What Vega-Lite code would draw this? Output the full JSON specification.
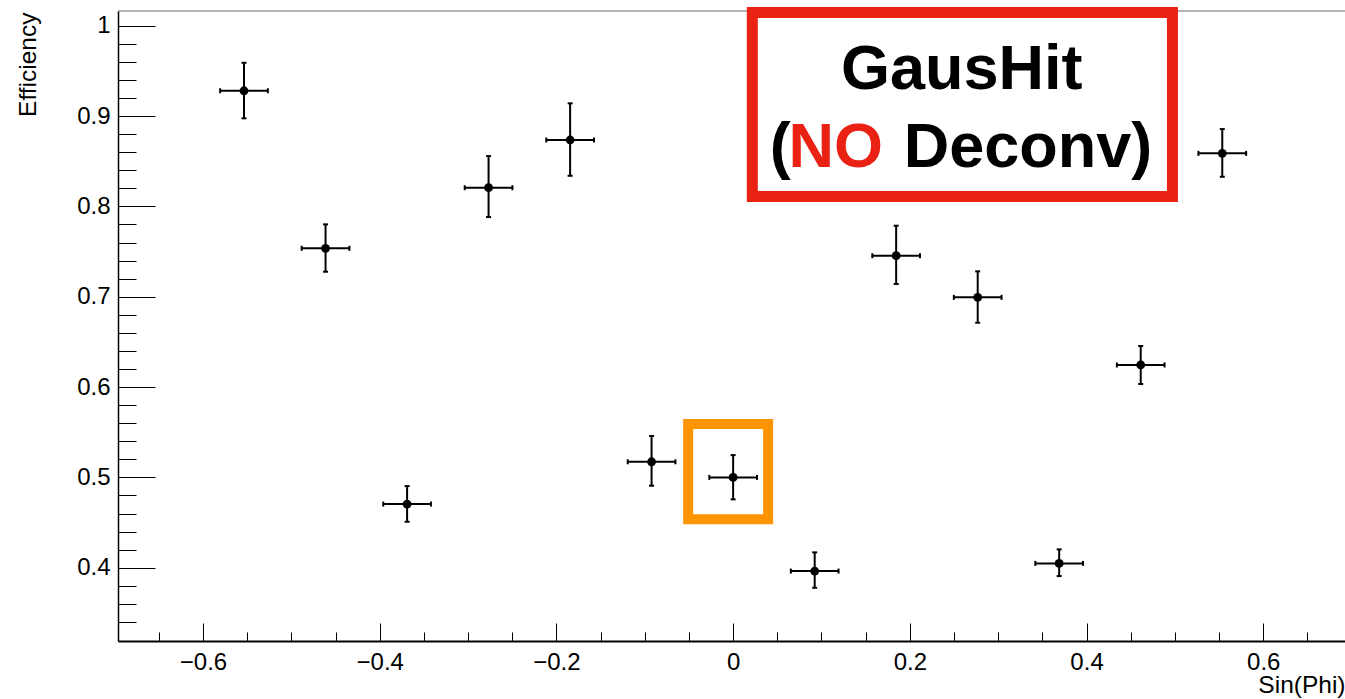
{
  "$schema": "https://vega.github.io/schema/vega-lite/v6.json",
  "width": 1227,
  "height": 630,
  "autosize": {"type": "none"},
  "padding": {"left": 118, "top": 11, "right": 0, "bottom": 58},
  "background": "white",
  "config": {"view": {"stroke": null}},
  "data": {"values": [
    {"x": -0.5536, "y": 0.928, "xlo": -0.5806, "xhi": -0.5266, "ylo": 0.8975, "yhi": 0.959},
    {"x": -0.4613, "y": 0.7536, "xlo": -0.4883, "xhi": -0.4343, "ylo": 0.7277, "yhi": 0.7801},
    {"x": -0.369, "y": 0.4705, "xlo": -0.396, "xhi": -0.342, "ylo": 0.4509, "yhi": 0.4904},
    {"x": -0.2768, "y": 0.8207, "xlo": -0.3038, "xhi": -0.2498, "ylo": 0.7882, "yhi": 0.8557},
    {"x": -0.1845, "y": 0.8735, "xlo": -0.2115, "xhi": -0.1575, "ylo": 0.8339, "yhi": 0.9141},
    {"x": -0.0923, "y": 0.5173, "xlo": -0.1193, "xhi": -0.0653, "ylo": 0.4908, "yhi": 0.5458},
    {"x": 0.0, "y": 0.5, "xlo": -0.027, "xhi": 0.027, "ylo": 0.4757, "yhi": 0.5247},
    {"x": 0.0923, "y": 0.3963, "xlo": 0.0653, "xhi": 0.1193, "ylo": 0.3778, "yhi": 0.417},
    {"x": 0.1845, "y": 0.7454, "xlo": 0.1575, "xhi": 0.2115, "ylo": 0.7141, "yhi": 0.7786},
    {"x": 0.2768, "y": 0.6993, "xlo": 0.2498, "xhi": 0.3038, "ylo": 0.6712, "yhi": 0.7281},
    {"x": 0.369, "y": 0.4048, "xlo": 0.342, "xhi": 0.396, "ylo": 0.3908, "yhi": 0.4203},
    {"x": 0.4613, "y": 0.6245, "xlo": 0.4343, "xhi": 0.4883, "ylo": 0.6034, "yhi": 0.6455},
    {"x": 0.5536, "y": 0.8587, "xlo": 0.5266, "xhi": 0.5806, "ylo": 0.8328, "yhi": 0.8856}
  ]},
  "layer": [
    {
      "mark": {"type": "rule", "color": "black", "strokeWidth": 2},
      "encoding": {
        "x": {
          "field": "xlo", "type": "quantitative",
          "scale": {"domain": [-0.6962, 0.6925], "nice": false, "zero": false},
          "axis": {
            "title": "Sin(Phi)",
            "values": [-0.65, -0.6, -0.55, -0.5, -0.45, -0.4, -0.35, -0.3, -0.25, -0.2, -0.15, -0.1, -0.05, 0, 0.05, 0.1, 0.15, 0.2, 0.25, 0.3, 0.35, 0.4, 0.45, 0.5, 0.55, 0.6, 0.65],
            "tickCount": 200,
            "tickSize": {"condition": {"test": "abs(datum.value*5 - round(datum.value*5)) < 0.001", "value": -18}, "value": -9},
            "tickColor": "black",
            "tickWidth": 1,
            "domainColor": "black",
            "domainWidth": 2,
            "grid": false,
            "labelExpr": "abs(datum.value*5 - round(datum.value*5)) < 0.001 ? (abs(datum.value) < 0.001 ? '0' : format(datum.value, '.1f')) : ''",
            "labelFont": "Liberation Sans",
            "labelFontSize": 24,
            "labelColor": "black",
            "labelPadding": 27,
            "labelOverlap": false,
            "labelFlush": false,
            "labelBound": false,
            "titleFont": "Liberation Sans",
            "titleFontSize": 24.5,
            "titleFontWeight": "normal",
            "titleColor": "black",
            "titleAlign": "right",
            "titleBaseline": "alphabetic",
            "titleX": 1227,
            "titleY": 51
          }
        },
        "x2": {"field": "xhi"},
        "y": {
          "field": "y", "type": "quantitative",
          "scale": {"domain": [0.3189, 1.0163], "nice": false, "zero": false},
          "axis": {
            "title": "Efficiency",
            "values": [0.34, 0.36, 0.38, 0.4, 0.42, 0.44, 0.46, 0.48, 0.5, 0.52, 0.54, 0.56, 0.58, 0.6, 0.62, 0.64, 0.66, 0.68, 0.7, 0.72, 0.74, 0.76, 0.78, 0.8, 0.82, 0.84, 0.86, 0.88, 0.9, 0.92, 0.94, 0.96, 0.98, 1.0],
            "tickCount": 200,
            "tickSize": {"condition": {"test": "abs(datum.value*10 - round(datum.value*10)) < 0.001", "value": -37}, "value": -18},
            "tickColor": "black",
            "tickWidth": 1,
            "domainColor": "black",
            "domainWidth": 1.5,
            "grid": false,
            "labelExpr": "abs(datum.value*10 - round(datum.value*10)) < 0.001 ? (abs(datum.value - 1) < 0.001 ? '1' : format(datum.value, '.1f')) : ''",
            "labelFont": "Liberation Sans",
            "labelFontSize": 24,
            "labelColor": "black",
            "labelPadding": 45,
            "labelOverlap": false,
            "labelFlush": false,
            "labelBound": false,
            "titleFont": "Liberation Sans",
            "titleFontSize": 24.5,
            "titleFontWeight": "normal",
            "titleColor": "black",
            "titleAngle": -90,
            "titleAlign": "right",
            "titleBaseline": "alphabetic",
            "titleX": -83,
            "titleY": 1
          }
        }
      }
    },
    {
      "data": {"values": [{}]},
      "mark": {"type": "rule", "color": "#666666", "strokeWidth": 1},
      "encoding": {
        "y": {"datum": 1.0163, "type": "quantitative", "scale": {"domain": [0.3189, 1.0163], "nice": false, "zero": false}}
      }
    },
    {
      "mark": {"type": "rule", "color": "black", "strokeWidth": 2},
      "encoding": {
        "x": {"field": "x", "type": "quantitative", "scale": {"domain": [-0.6962, 0.6925], "nice": false, "zero": false}},
        "y": {"field": "ylo", "type": "quantitative", "scale": {"domain": [0.3189, 1.0163], "nice": false, "zero": false}},
        "y2": {"field": "yhi"}
      }
    },
    {
      "mark": {"type": "tick", "orient": "vertical", "color": "black", "size": 5, "thickness": 2, "opacity": 1},
      "encoding": {
        "x": {"field": "xlo", "type": "quantitative", "scale": {"domain": [-0.6962, 0.6925], "nice": false, "zero": false}},
        "y": {"field": "y", "type": "quantitative", "scale": {"domain": [0.3189, 1.0163], "nice": false, "zero": false}}
      }
    },
    {
      "mark": {"type": "tick", "orient": "vertical", "color": "black", "size": 5, "thickness": 2, "opacity": 1},
      "encoding": {
        "x": {"field": "xhi", "type": "quantitative", "scale": {"domain": [-0.6962, 0.6925], "nice": false, "zero": false}},
        "y": {"field": "y", "type": "quantitative", "scale": {"domain": [0.3189, 1.0163], "nice": false, "zero": false}}
      }
    },
    {
      "mark": {"type": "tick", "orient": "horizontal", "color": "black", "size": 5, "thickness": 2, "opacity": 1},
      "encoding": {
        "x": {"field": "x", "type": "quantitative", "scale": {"domain": [-0.6962, 0.6925], "nice": false, "zero": false}},
        "y": {"field": "ylo", "type": "quantitative", "scale": {"domain": [0.3189, 1.0163], "nice": false, "zero": false}}
      }
    },
    {
      "mark": {"type": "tick", "orient": "horizontal", "color": "black", "size": 5, "thickness": 2, "opacity": 1},
      "encoding": {
        "x": {"field": "x", "type": "quantitative", "scale": {"domain": [-0.6962, 0.6925], "nice": false, "zero": false}},
        "y": {"field": "yhi", "type": "quantitative", "scale": {"domain": [0.3189, 1.0163], "nice": false, "zero": false}}
      }
    },
    {
      "mark": {"type": "circle", "color": "black", "size": 78, "opacity": 1},
      "encoding": {
        "x": {"field": "x", "type": "quantitative", "scale": {"domain": [-0.6962, 0.6925], "nice": false, "zero": false}},
        "y": {"field": "y", "type": "quantitative", "scale": {"domain": [0.3189, 1.0163], "nice": false, "zero": false}}
      }
    },
    {
      "data": {"values": [{}]},
      "mark": {"type": "rect", "filled": false, "stroke": "#fe9400", "strokeWidth": 10, "strokeJoin": "miter"},
      "encoding": {
        "x": {"datum": -0.0509, "type": "quantitative", "scale": {"domain": [-0.6962, 0.6925], "nice": false, "zero": false}},
        "x2": {"datum": 0.0396},
        "y": {"datum": 0.5591, "type": "quantitative", "scale": {"domain": [0.3189, 1.0163], "nice": false, "zero": false}},
        "y2": {"datum": 0.4536}
      }
    },
    {
      "data": {"values": [{}]},
      "mark": {"type": "rect", "fill": "white", "stroke": "#ea2213", "strokeWidth": 11, "strokeJoin": "miter"},
      "encoding": {
        "x": {"datum": 0.0217, "type": "quantitative", "scale": {"domain": [-0.6962, 0.6925], "nice": false, "zero": false}},
        "x2": {"datum": 0.4972},
        "y": {"datum": 1.0146, "type": "quantitative", "scale": {"domain": [0.3189, 1.0163], "nice": false, "zero": false}},
        "y2": {"datum": 0.8109}
      }
    },
    {
      "data": {"values": [{}]},
      "mark": {"type": "text", "text": "GausHit", "font": "Liberation Sans", "fontWeight": "bold", "fontSize": 63, "color": "black", "align": "center", "baseline": "alphabetic"},
      "encoding": {
        "x": {"datum": 0.2587, "type": "quantitative", "scale": {"domain": [-0.6962, 0.6925], "nice": false, "zero": false}},
        "y": {"datum": 0.9296, "type": "quantitative", "scale": {"domain": [0.3189, 1.0163], "nice": false, "zero": false}}
      }
    },
    {
      "data": {"values": [{}]},
      "mark": {"type": "text", "text": "(", "font": "Liberation Sans", "fontWeight": "bold", "fontSize": 63, "color": "black", "align": "left", "baseline": "alphabetic"},
      "encoding": {
        "x": {"datum": 0.0415, "type": "quantitative", "scale": {"domain": [-0.6962, 0.6925], "nice": false, "zero": false}},
        "y": {"datum": 0.8439, "type": "quantitative", "scale": {"domain": [0.3189, 1.0163], "nice": false, "zero": false}}
      }
    },
    {
      "data": {"values": [{}]},
      "mark": {"type": "text", "text": "NO", "font": "Liberation Sans", "fontWeight": "bold", "fontSize": 63, "color": "#ea2213", "align": "left", "baseline": "alphabetic"},
      "encoding": {
        "x": {"datum": 0.0628, "type": "quantitative", "scale": {"domain": [-0.6962, 0.6925], "nice": false, "zero": false}},
        "y": {"datum": 0.8439, "type": "quantitative", "scale": {"domain": [0.3189, 1.0163], "nice": false, "zero": false}}
      }
    },
    {
      "data": {"values": [{}]},
      "mark": {"type": "text", "text": "Deconv)", "font": "Liberation Sans", "fontWeight": "bold", "fontSize": 63, "color": "black", "align": "left", "baseline": "alphabetic"},
      "encoding": {
        "x": {"datum": 0.193, "type": "quantitative", "scale": {"domain": [-0.6962, 0.6925], "nice": false, "zero": false}},
        "y": {"datum": 0.8439, "type": "quantitative", "scale": {"domain": [0.3189, 1.0163], "nice": false, "zero": false}}
      }
    }
  ]
}
